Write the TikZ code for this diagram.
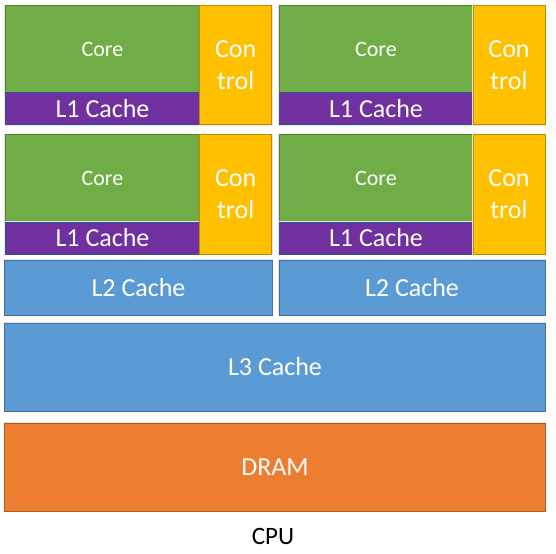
\documentclass[tikz,border=0pt]{standalone}
\usepackage{fontspec}
\setmainfont{Carlito}
\definecolor{coregreen}{HTML}{70AD47}
\definecolor{coreline}{HTML}{507E32}
\definecolor{lonepurple}{HTML}{7030A0}
\definecolor{loneline}{HTML}{2F528F}
\definecolor{ctrlgold}{HTML}{FFC000}
\definecolor{ctrlline}{HTML}{BC8C00}
\definecolor{cacheblue}{HTML}{5B9BD5}
\definecolor{cacheline}{HTML}{41719C}
\definecolor{dramorange}{HTML}{ED7D31}
\definecolor{dramline}{HTML}{AE5A21}
\begin{document}
\begin{tikzpicture}[x=1bp,y=-1bp,
	   block/.style={rectangle,inner sep=0pt,outer sep=0pt,line width=1bp,text=white,
	     preaction={draw=black!10,line width=2.4bp}},
	   corebox/.style={block,fill=coregreen,draw=coreline,minimum width=194bp,minimum height=87bp,font=\fontsize{22bp}{26bp}\selectfont},
	   lonebox/.style={block,fill=lonepurple,draw=loneline,minimum width=194bp,minimum height=32bp,font=\fontsize{26bp}{30bp}\selectfont},
	   ctrlbox/.style={block,fill=ctrlgold,draw=ctrlline,minimum width=72bp,minimum height=119bp,align=center,font=\fontsize{26bp}{32bp}\selectfont},
	   cachebox/.style={block,fill=cacheblue,draw=cacheline,font=\fontsize{26bp}{30bp}\selectfont},
	   drambox/.style={block,fill=dramorange,draw=dramline,font=\fontsize{26bp}{30bp}\selectfont}]
	   \useasboundingbox (0,0) rectangle (556,554);
	   % upper pair of cores
	   \node [corebox] (core0) at (102.5,49.5) {Core};
	   \node [lonebox] (lone0) at (102.5,109) {L1 Cache};
	   \node [ctrlbox] (ctrl0) at (235.75,65.5) {Con\\trol};
	   \node [corebox] (core1) at (376,49.5) {Core};
	   \node [lonebox] (lone1) at (376,109) {L1 Cache};
	   \node [ctrlbox] (ctrl1) at (509,65.5) {Con\\trol};
	   % lower pair of cores
	   \node [corebox] (core2) at (102.5,178.5) {Core};
	   \node [lonebox] (lone2) at (102.5,238) {L1 Cache};
	   \node [ctrlbox] (ctrl2) at (235.75,194.5) {Con\\trol};
	   \node [corebox] (core3) at (376,178.5) {Core};
	   \node [lonebox] (lone3) at (376,238) {L1 Cache};
	   \node [ctrlbox] (ctrl3) at (509,194.5) {Con\\trol};
	   % shared levels
	   \node [cachebox,minimum width=267bp,minimum height=55bp] (ltwo0) at (138.5,287.5) {L2 Cache};
	   \node [cachebox,minimum width=266bp,minimum height=55bp] (ltwo1) at (412,287.5) {L2 Cache};
	   \node [cachebox,minimum width=540bp,minimum height=88bp] (lthree) at (275,367) {L3 Cache};
	   \node [drambox,minimum width=540bp,minimum height=88bp] (dram) at (275,467) {DRAM};
	   \node [font=\fontsize{25bp}{30bp}\selectfont] (cpu) at (273,536) {CPU};
\end{tikzpicture}
\end{document}
